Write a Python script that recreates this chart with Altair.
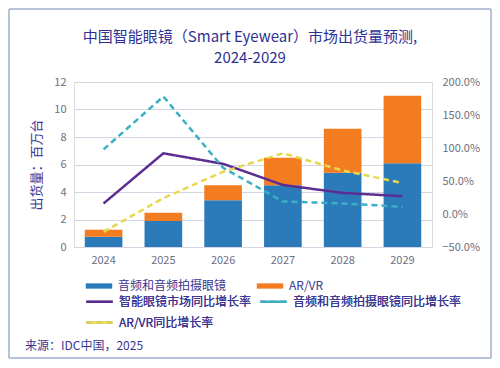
import altair as alt
import pandas as pd

years = ["2024", "2025", "2026", "2027", "2028", "2029"]
audio_units = [0.75, 1.9, 3.4, 4.5, 5.4, 6.1]
arvr_units = [0.5, 0.6, 1.1, 2.0, 3.2, 4.9]
growth_total = [0.16, 0.92, 0.76, 0.44, 0.32, 0.27]
growth_audio = [0.98, 1.78, 0.70, 0.19, 0.16, 0.11]
growth_arvr = [-0.27, 0.24, 0.64, 0.92, 0.66, 0.47]

bar_series = ["音频和音频拍摄眼镜", "AR/VR"]
line_series = ["智能眼镜市场同比增长率", "音频和音频拍摄眼镜同比增长率", "AR/VR同比增长率"]
bar_colors = ["#2B7BBA", "#F47C20"]
line_colors = ["#5C2D91", "#3BAFC4", "#E6D84A"]

title_line1 = ["中国智能眼镜（Smart Eyewear）市场出货量预测,"]
title_line2 = ["2024-2029"]
y_title = "出货量：百万台"
source_text = ["来源：IDC中国，2025"]

FONT = "Noto Sans CJK SC"
NAVY = "#3B3590"
GRAY = "#6E6E82"
FRAME = "#9DB0CC"

bars = pd.DataFrame(
    [{"year": y, "series": bar_series[0], "value": v, "idx": 0} for y, v in zip(years, audio_units)]
    + [{"year": y, "series": bar_series[1], "value": v, "idx": 1} for y, v in zip(years, arvr_units)]
)
lines = pd.DataFrame(
    [{"year": y, "series": line_series[0], "g": v} for y, v in zip(years, growth_total)]
    + [{"year": y, "series": line_series[1], "g": v} for y, v in zip(years, growth_audio)]
    + [{"year": y, "series": line_series[2], "g": v} for y, v in zip(years, growth_arvr)]
)

legend_common = dict(
    title=None, orient="none", legendX=11, columns=2,
    direction="horizontal", labelLimit=300,
    labelFont=FONT, labelFontSize=12, labelColor=NAVY,
    labelOffset=5, padding=0,
)

x = alt.X(
    "year:N",
    title=None,
    scale=alt.Scale(paddingInner=0.37, paddingOuter=0.18),
    axis=alt.Axis(labelAngle=0, domain=False, ticks=False, labelPadding=7,
                  labelFont=FONT, labelFontSize=11, labelColor=GRAY),
)

bar_layer = alt.Chart(bars).mark_bar().encode(
    x=x,
    y=alt.Y(
        "value:Q",
        stack=True,
        title=y_title,
        scale=alt.Scale(domain=[0, 12], nice=False),
        axis=alt.Axis(values=[0, 2, 4, 6, 8, 10, 12], domain=False, ticks=False,
                      gridColor="#D4D4E2", labelPadding=8, labelFont=FONT,
                      labelFontSize=11, labelColor=GRAY, titleFont=FONT,
                      titleFontSize=13, titleColor=NAVY, titleFontWeight="normal",
                      titlePadding=10),
    ),
    color=alt.Color(
        "series:N",
        scale=alt.Scale(domain=bar_series, range=bar_colors),
        legend=alt.Legend(legendY=190, columnPadding=29, symbolSize=700, rowPadding=0,
                          symbolType="M-1,-0.2H1V0.2H-1Z", **legend_common),
    ),
    order=alt.Order("idx:Q"),
)

line_legend = alt.Legend(legendY=205, columnPadding=3, symbolType="stroke", rowPadding=0,
                         symbolSize=700, symbolStrokeWidth=2.5, **legend_common)

line_layer = alt.Chart(lines).mark_line(strokeWidth=2.5).encode(
    x=x,
    y=alt.Y(
        "g:Q",
        title=None,
        scale=alt.Scale(domain=[-0.5, 2.0], nice=False),
        axis=alt.Axis(orient="right", values=[-0.5, 0, 0.5, 1.0, 1.5, 2.0], format=".1%",
                      domain=False, ticks=False, grid=False, labelPadding=10,
                      labelFont=FONT, labelFontSize=11, labelColor=GRAY),
    ),
    color=alt.Color(
        "series:N",
        scale=alt.Scale(domain=line_series, range=line_colors),
        legend=line_legend,
    ),
    strokeDash=alt.StrokeDash(
        "series:N",
        scale=alt.Scale(domain=line_series, range=[[1, 0], [6, 4], [6, 4]]),
        legend=line_legend,
    ),
)

one = pd.DataFrame({"k": [0]})
L, R, T, B = -65, 417, -73, 276
frame_top = alt.Chart(one).mark_rule(color=FRAME, strokeWidth=1.5).encode(
    x=alt.value(L), x2=alt.value(R), y=alt.value(T))
frame_bottom = alt.Chart(one).mark_rule(color=FRAME, strokeWidth=1.5).encode(
    x=alt.value(L), x2=alt.value(R), y=alt.value(B))
frame_left = alt.Chart(one).mark_rule(color=FRAME, strokeWidth=1.5).encode(
    x=alt.value(L), y=alt.value(T), y2=alt.value(B))
frame_right = alt.Chart(one).mark_rule(color=FRAME, strokeWidth=1.5).encode(
    x=alt.value(R), y=alt.value(T), y2=alt.value(B))

title1 = alt.Chart(pd.DataFrame({"t": title_line1})).mark_text(
    align="center", baseline="middle", font=FONT, fontSize=15, color="#2E3192"
).encode(x=alt.value(176), y=alt.value(-45), text="t:N")

title2 = alt.Chart(pd.DataFrame({"t": title_line2})).mark_text(
    align="center", baseline="middle", font=FONT, fontSize=15, color="#2E3192"
).encode(x=alt.value(176), y=alt.value(-24), text="t:N")

source = alt.Chart(pd.DataFrame({"t": source_text})).mark_text(
    align="left", baseline="middle", font=FONT, fontSize=12, color=NAVY
).encode(x=alt.value(-49), y=alt.value(264), text="t:N")

inner = alt.layer(bar_layer, line_layer).resolve_scale(
    y="independent", color="independent"
)

chart = alt.layer(
    frame_top, frame_bottom, frame_left, frame_right, inner, title1, title2, source
).properties(
    width=358,
    height=165,
    autosize=alt.AutoSizeParams(type="none"),
    padding={"left": 66, "top": 74, "right": 60, "bottom": 113},
).configure_view(stroke=None).configure(background="white")

chart.save("out.html", embed_options={"renderer": "svg", "actions": False})
